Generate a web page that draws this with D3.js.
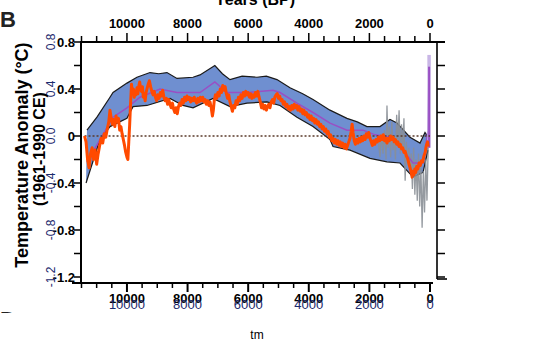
<!DOCTYPE html>
<html><head><meta charset="utf-8">
<script src="https://cdn.jsdelivr.net/npm/d3@7"></script>
<style>body{margin:0;background:#fff}svg{display:block}text{font-family:"Liberation Sans",Arial,sans-serif}</style>
</head><body><div id="c"></div>
<script>
// ---- data (years BP, temperature anomaly °C) ----
const upperYears = [11320,10990,10560,10460,10000,9670,9240,8950,8680,8350,7820,7590,7100,6850,6600,6200,5710,5400,5050,4620,4200,3860,3300,2740,2400,2080,1650,1320,1090,660,330,165,66];
const upperTemp  = [0.05,0.16,0.33,0.37,0.45,0.50,0.54,0.53,0.54,0.49,0.50,0.52,0.60,0.53,0.48,0.51,0.50,0.51,0.48,0.41,0.36,0.31,0.22,0.15,0.12,0.08,0.08,0.14,0.11,-0.01,-0.06,0.03,-0.01];
const lowerYears = [11350,10890,10560,10000,9800,9340,8580,8150,7820,7160,6600,6040,5380,4950,4390,3860,3300,3200,2640,1980,1420,990,560,230,66];
const lowerTemp  = [-0.40,-0.03,0.08,0.15,0.25,0.26,0.32,0.26,0.24,0.32,0.25,0.28,0.29,0.26,0.16,0.08,-0.03,-0.09,-0.12,-0.19,-0.22,-0.23,-0.35,-0.31,-0.12];
const meanYears = [11320,10890,10460,10000,9570,8910,8350,7820,7590,7100,6700,6040,5180,4950,4390,3860,3300,2740,2210,1815,1320,890,560,230,66,33];
const meanTemp  = [-0.22,-0.03,0.16,0.24,0.33,0.40,0.37,0.37,0.37,0.46,0.37,0.37,0.39,0.37,0.28,0.20,0.11,0.05,0.05,0.01,-0.01,-0.12,-0.23,-0.23,0.05,0.59];
const orangeYears = [11400,11350,11300,11250,11200,11150,11100,11050,11000,10950,10900,10850,10800,10750,10700,10650,10600,10560,10520,10480,10440,10400,10360,10320,10280,10240,10200,10160,10120,10080,10040,10000,9970,9940,9910,9880,9850,9820,9790,9760,9730,9700,9670,9640,9610,9580,9550,9520,9490,9460,9430,9400,9370,9340,9300,9260,9220,9180,9140,9100,9060,9020,8980,8940,8900,8860,8820,8780,8740,8700,8660,8620,8580,8540,8500,8460,8420,8380,8340,8300,8260,8220,8180,8140,8100,8060,8020,7980,7940,7900,7860,7820,7780,7740,7700,7660,7620,7580,7540,7500,7460,7420,7380,7340,7300,7260,7220,7180,7150,7120,7080,7040,7000,6960,6920,6880,6840,6800,6760,6720,6680,6640,6600,6560,6520,6480,6440,6400,6360,6320,6280,6240,6200,6160,6120,6080,6040,6000,5960,5920,5880,5840,5800,5760,5720,5680,5640,5600,5560,5520,5480,5440,5400,5360,5320,5280,5240,5200,5160,5120,5080,5040,5000,4960,4920,4880,4840,4800,4760,4720,4680,4640,4600,4560,4520,4480,4440,4400,4360,4320,4280,4240,4200,4160,4120,4080,4040,4000,3960,3920,3880,3840,3800,3760,3720,3680,3640,3600,3560,3520,3480,3440,3400,3360,3320,3280,3240,3200,3160,3120,3080,3040,3000,2960,2920,2880,2840,2800,2760,2720,2680,2640,2600,2570,2540,2500,2460,2420,2380,2340,2300,2260,2220,2180,2140,2100,2060,2020,1980,1940,1900,1860,1820,1780,1740,1700,1660,1620,1580,1540,1500,1460,1420,1380,1340,1300,1260,1220,1180,1140,1100,1060,1020,980,940,900,860,820,780,740,700,660,620,590,560,530,500,470,440,400,360,320,280,240,200,160,120,80,60];
const orangeTemp  = [0.00,-0.05,-0.20,-0.27,-0.15,-0.10,-0.20,-0.12,-0.24,-0.15,-0.08,-0.02,-0.06,0.02,-0.01,0.06,0.12,0.22,0.15,0.10,0.14,0.08,0.17,0.12,0.15,0.05,0.08,0.02,-0.03,-0.08,-0.14,-0.18,-0.20,-0.05,0.10,0.28,0.44,0.36,0.40,0.33,0.38,0.35,0.41,0.36,0.42,0.46,0.40,0.38,0.42,0.33,0.36,0.30,0.37,0.40,0.44,0.47,0.42,0.38,0.35,0.38,0.33,0.30,0.35,0.32,0.37,0.34,0.39,0.33,0.30,0.32,0.27,0.31,0.27,0.24,0.28,0.23,0.20,0.24,0.19,0.25,0.28,0.26,0.31,0.28,0.33,0.30,0.34,0.31,0.33,0.29,0.32,0.30,0.33,0.30,0.28,0.32,0.29,0.33,0.30,0.33,0.29,0.31,0.27,0.30,0.26,0.29,0.24,0.17,0.22,0.30,0.35,0.32,0.37,0.34,0.40,0.37,0.43,0.39,0.42,0.36,0.32,0.35,0.29,0.25,0.21,0.26,0.24,0.30,0.27,0.33,0.30,0.35,0.32,0.37,0.34,0.38,0.35,0.37,0.33,0.36,0.32,0.35,0.33,0.37,0.34,0.38,0.33,0.29,0.24,0.27,0.23,0.26,0.22,0.25,0.27,0.24,0.29,0.31,0.28,0.33,0.35,0.36,0.32,0.34,0.30,0.31,0.27,0.29,0.25,0.27,0.23,0.25,0.22,0.26,0.23,0.27,0.24,0.26,0.22,0.25,0.21,0.23,0.19,0.22,0.18,0.20,0.16,0.18,0.14,0.17,0.13,0.15,0.11,0.14,0.10,0.12,0.08,0.10,0.06,0.08,0.04,0.06,0.02,0.04,-0.01,0.01,-0.04,-0.02,-0.06,-0.03,-0.07,-0.04,-0.08,-0.05,-0.09,-0.06,-0.10,-0.07,-0.11,-0.08,-0.05,-0.02,0.04,0.10,0.03,-0.04,-0.07,-0.03,-0.06,-0.02,-0.05,-0.01,-0.04,0.00,-0.03,0.02,-0.01,0.03,-0.02,-0.05,-0.08,-0.04,-0.07,-0.03,-0.05,-0.01,-0.04,0.00,-0.03,0.01,-0.04,-0.02,-0.06,-0.02,-0.04,0.00,-0.03,-0.01,-0.05,-0.03,-0.07,-0.05,-0.09,-0.07,-0.11,-0.10,-0.14,-0.13,-0.17,-0.19,-0.23,-0.27,-0.31,-0.35,-0.30,-0.33,-0.28,-0.31,-0.26,-0.28,-0.23,-0.25,-0.21,-0.22,-0.17,-0.14,-0.08,-0.05,-0.09];
const greyYears = [1700,1650,1600,1550,1500,1450,1420,1380,1340,1300,1260,1220,1180,1140,1100,1060,1020,980,940,900,860,820,780,740,700,660,620,580,540,500,460,420,380,340,300,260,220,180,140,100,60,20];
const greyTemp  = [-0.05,-0.18,0.02,-0.15,0.05,-0.2,0.26,-0.1,0.08,-0.18,0.12,-0.12,0.0,-0.2,0.18,-0.05,0.22,-0.15,0.1,-0.1,0.15,-0.38,-0.05,-0.25,-0.1,-0.3,-0.15,-0.45,-0.1,-0.5,-0.2,-0.55,-0.15,-0.6,-0.25,-0.78,-0.3,-0.65,-0.2,-0.55,-0.1,0.0];
const spikeYears = [30, 30];
const spikeTemp  = [-0.1, 0.69];
const xTickLabels = [10000, 8000, 6000, 4000, 2000, 0];
const yTickLabels = ["0.8","0.4","0","-0.4","-0.8","-1.2"];
const yTickValues = [0.8, 0.4, 0, -0.4, -0.8, -1.2];
const yOverlayLabels = ["0.8","0.4","0.0","-0.4","-0.8","-1.2"];

const W = 544, H = 364;
const svg = d3.select("#c").append("svg").attr("width", W).attr("height", H);
const x = d3.scaleLinear().domain([11500, 0]).range([81.5, 430]);
const y = d3.scaleLinear().domain([-1.2, 0.8]).range([277, 42]);
const line = d3.line().x(d=>x(d[0])).y(d=>y(d[1]));

// band
const bandPts = upperYears.map((d,i)=>[d, upperTemp[i]]).concat(lowerYears.map((d,i)=>[d, lowerTemp[i]]).reverse());
svg.append("path").attr("d", line(bandPts) + "Z").attr("fill", "#6f8fd0").attr("stroke", "none");
svg.append("path").attr("d", line(upperYears.map((d,i)=>[d, upperTemp[i]]))).attr("fill","none").attr("stroke","#1a1a1a").attr("stroke-width",1.2);
svg.append("path").attr("d", line(lowerYears.map((d,i)=>[d, lowerTemp[i]]))).attr("fill","none").attr("stroke","#1a1a1a").attr("stroke-width",1.2);

// grey spiky records
svg.append("path").attr("d", line(greyYears.map((d,i)=>[d, greyTemp[i]]))).attr("fill","none").attr("stroke","#8a8f96").attr("stroke-width",1.3).attr("opacity",0.9);

// mean
svg.append("path").attr("d", line(meanYears.map((d,i)=>[d, meanTemp[i]]))).attr("fill","none").attr("stroke","#9a4fc4").attr("stroke-width",1.5);
svg.append("path").attr("d", line(spikeYears.map((d,i)=>[d, spikeTemp[i]]))).attr("fill","none").attr("stroke","#c9b6e6").attr("stroke-width",3.5);
svg.append("path").attr("d", line([[30,-0.1],[30,0.59]])).attr("fill","none").attr("stroke","#9a4fc4").attr("stroke-width",2);

// zero line
svg.append("line").attr("x1", x(11400)).attr("x2", x(0)).attr("y1", y(0)).attr("y2", y(0))
  .attr("stroke", "#5a3a2a").attr("stroke-width", 1.4).attr("stroke-dasharray", "2,2");

// orange
svg.append("path").attr("d", line(orangeYears.map((d,i)=>[d, orangeTemp[i]]))).attr("fill","none").attr("stroke","#ff4a00").attr("stroke-width",3).attr("stroke-linejoin","round");

// frame
const k = "#000";
svg.append("line").attr("x1",81).attr("x2",445).attr("y1",42).attr("y2",42).attr("stroke",k).attr("stroke-width",2);
svg.append("line").attr("x1",81).attr("x2",81).attr("y1",41).attr("y2",283).attr("stroke",k).attr("stroke-width",2);
svg.append("line").attr("x1",72).attr("x2",433).attr("y1",283).attr("y2",283).attr("stroke",k).attr("stroke-width",2);
svg.append("line").attr("x1",437).attr("x2",437).attr("y1",42).attr("y2",279).attr("stroke",k).attr("stroke-width",1.6);
svg.append("line").attr("x1",437).attr("x2",447).attr("y1",279).attr("y2",279).attr("stroke",k).attr("stroke-width",1.6);

// left & right y ticks
d3.range(-6, 5).map(i=>i*0.2).forEach(v=>{
  svg.append("line").attr("x1",74).attr("x2",81).attr("y1",y(v)).attr("y2",y(v)).attr("stroke",k).attr("stroke-width",1.5);
  svg.append("line").attr("x1",437).attr("x2",445).attr("y1",y(v)).attr("y2",y(v)).attr("stroke",k).attr("stroke-width",1.5);
});
yTickValues.forEach((v,i)=>{
  svg.append("text").attr("x",75).attr("y",y(v)+5).attr("text-anchor","end").attr("font-size",13).attr("font-weight","bold").text(yTickLabels[i]);
  svg.append("text").attr("transform",`translate(55,${y(v)}) rotate(-90)`).attr("text-anchor","middle").attr("font-size",12).attr("fill","#1c2a6e").text(yOverlayLabels[i]);
});

// top & bottom x ticks
d3.range(0, 24).map(i=>i*500).forEach(v=>{
  const major = v % 2000 === 0;
  svg.append("line").attr("x1",x(v)).attr("x2",x(v)).attr("y1",42).attr("y2",major?33:36).attr("stroke",k).attr("stroke-width",1.5);
  svg.append("line").attr("x1",x(v)).attr("x2",x(v)).attr("y1",283).attr("y2",major?292:288).attr("stroke",k).attr("stroke-width",major?2:1.5);
});
xTickLabels.forEach(v=>{
  svg.append("text").attr("x",x(v)).attr("y",28).attr("text-anchor","middle").attr("font-size",13).attr("font-weight","bold").text(v);
  svg.append("text").attr("x",x(v)).attr("y",303).attr("text-anchor","middle").attr("font-size",13).attr("font-weight","bold").text(v);
  svg.append("text").attr("x",x(v)).attr("y",309).attr("text-anchor","middle").attr("font-size",13).attr("fill","#1c2a6e").text(v);
});

// titles
svg.append("text").attr("x",255).attr("y",5).attr("text-anchor","middle").attr("font-size",16).attr("font-weight","bold").text("Years (BP)");
svg.append("text").attr("transform","translate(28,155) rotate(-90)").attr("text-anchor","middle").attr("font-size",18).attr("font-weight","bold").text("Temperature Anomaly (°C)");
svg.append("text").attr("transform","translate(45,149) rotate(-90)").attr("text-anchor","middle").attr("font-size",16).attr("font-weight","bold").text("(1961-1990 CE)");
svg.append("text").attr("x",0).attr("y",27).attr("font-size",22).attr("font-weight","bold").attr("fill","#222").text("B");
svg.append("clipPath").attr("id","dc").append("rect").attr("x",0).attr("y",300).attr("width",30).attr("height",13);
svg.append("text").attr("x",0).attr("y",327).attr("font-size",22).attr("font-weight","bold").attr("fill","#222").attr("clip-path","url(#dc)").text("D");
svg.append("text").attr("x",257).attr("y",339).attr("text-anchor","middle").attr("font-size",12).text("tm");
</script></body></html>
